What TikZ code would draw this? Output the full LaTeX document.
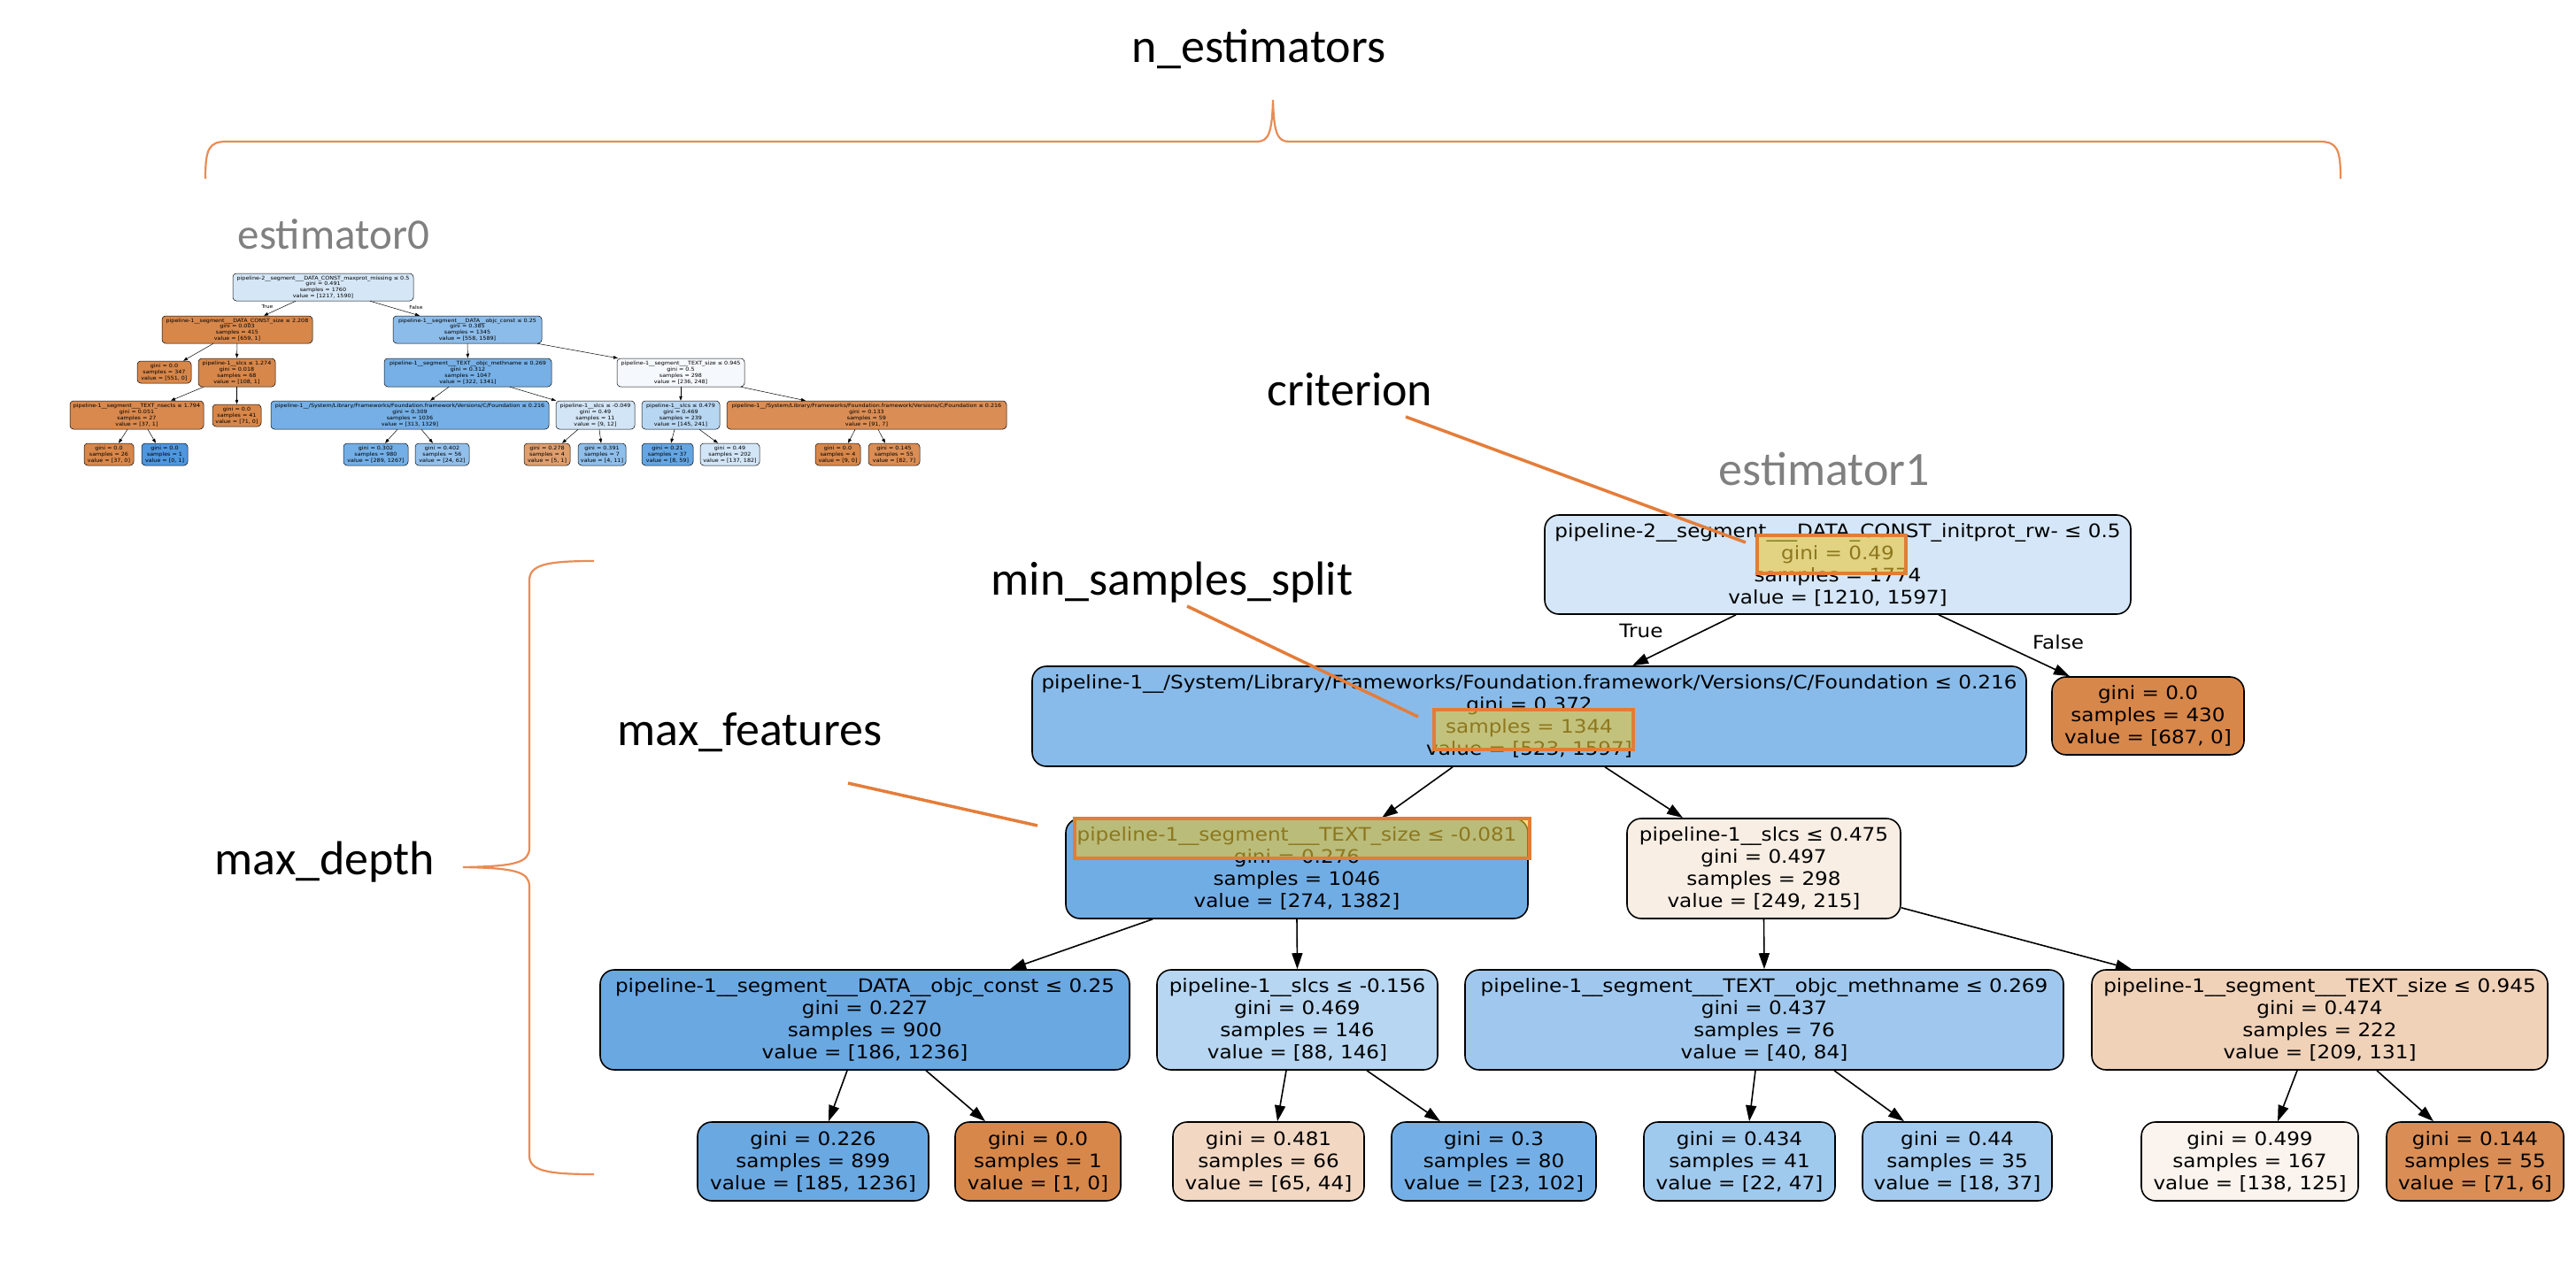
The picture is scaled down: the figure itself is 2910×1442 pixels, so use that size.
\documentclass[tikz,border=0pt]{standalone}
\usepackage{fontspec}
\usetikzlibrary{arrows.meta}
\newfontfamily\treefont[FakeStretch=1.1]{DejaVu Sans}
\newfontfamily\labfont{Carlito}
% colours
\definecolor{orangeF}{RGB}{216,135,74}
\definecolor{blueF}{RGB}{78,150,222}
\definecolor{croot}{RGB}{212,230,247}
\definecolor{cfnd}{RGB}{137,187,234}
\definecolor{cts}{RGB}{113,173,229}
\definecolor{csla}{RGB}{248,238,228}
\definecolor{coc}{RGB}{106,168,226}
\definecolor{cslb}{RGB}{183,214,242}
\definecolor{cmn}{RGB}{160,200,238}
\definecolor{ctsb}{RGB}{240,210,185}
\definecolor{clfc}{RGB}{242,216,195}
\definecolor{clfd}{RGB}{115,175,230}
\definecolor{clfe}{RGB}{160,201,238}
\definecolor{clff}{RGB}{163,203,239}
\definecolor{clfg}{RGB}{251,243,237}
\definecolor{clfh}{RGB}{218,142,85}
\definecolor{sroot}{RGB}{213,231,247}
\definecolor{sR}{RGB}{140,188,234}
\definecolor{sc}{RGB}{118,176,230}
\definecolor{sd}{RGB}{245,249,253}
\definecolor{se}{RGB}{217,137,78}
\definecolor{sg}{RGB}{117,175,230}
\definecolor{sh}{RGB}{210,229,246}
\definecolor{si}{RGB}{183,214,242}
\definecolor{sj}{RGB}{218,141,84}
\definecolor{sm}{RGB}{115,175,230}
\definecolor{sn}{RGB}{146,192,235}
\definecolor{so}{RGB}{222,158,110}
\definecolor{sp}{RGB}{142,190,234}
\definecolor{sq}{RGB}{100,165,226}
\definecolor{sr}{RGB}{211,230,247}
\definecolor{hlorange}{RGB}{226,125,55}
\definecolor{hlyellow}{RGB}{235,199,51}
\definecolor{callorange}{RGB}{228,125,58}
\definecolor{braceorange}{RGB}{232,140,85}
\definecolor{labgray}{RGB}{128,128,128}
\begin{document}
\begin{tikzpicture}[x=1pt,y=-1pt,
  bnode/.style={draw=black, line width=1.6pt, rounded corners=16pt, align=center,
    font=\treefont\fontsize{21}{25}\selectfont, inner sep=0pt},
  snode/.style={draw=black, line width=0.5pt, rounded corners=4pt, align=center,
    font=\treefont\fontsize{5.8}{6.8}\selectfont, inner sep=0pt},
  bedge/.style={draw=black, line width=1.6pt, -{Triangle[length=18pt,width=12pt]}},
  sedge/.style={draw=black, line width=0.5pt, -{Triangle[length=5pt,width=3.5pt]}},
  hl/.style={draw=hlorange, line width=4pt, fill=hlyellow, fill opacity=0.6, inner sep=0pt},
  callout/.style={draw=callorange, line width=3.5pt},
  bracecurve/.style={draw=braceorange, line width=2.2pt},
  lab/.style={font=\labfont\fontsize{54}{60}\selectfont, anchor=base, inner sep=0pt},
  biglab/.style={font=\treefont\fontsize{21}{25}\selectfont, anchor=base, inner sep=0pt},
  smalllab/.style={font=\treefont\fontsize{5.5}{6}\selectfont, anchor=base, inner sep=0pt}
]
\useasboundingbox (0,0) rectangle (2910,1442);

% ---------------- labels ----------------
\node[lab] (nest) at (1422,71) {n\_estimators};
\node[lab, text=labgray, font=\labfont\fontsize{49}{55}\selectfont] (est0) at (377,281) {estimator0};
\node[lab, text=labgray] (est1) at (2061,548) {estimator1};
\node[lab] (crit) at (1525,458) {criterion};
\node[lab] (mss) at (1324,672) {min\_samples\_split};
\node[lab] (mf) at (847,842) {max\_features};
\node[lab] (md) at (367,988) {max\_depth};

% ---------------- braces ----------------
\draw[bracecurve] (232,202) .. controls (232,168) and (236,160) .. (256,160) -- (1420,160)
  .. controls (1433,160) and (1437,150) .. (1438,113)
  .. controls (1439,150) and (1443,160) .. (1456,160) -- (2620,160)
  .. controls (2640,160) and (2644,168) .. (2644,202);
\draw[bracecurve] (671,634) .. controls (618,634) and (598,638) .. (598,656) -- (598,958)
  .. controls (598,975) and (582,979) .. (523,980)
  .. controls (582,981) and (598,985) .. (598,1002) -- (598,1306)
  .. controls (598,1323) and (618,1327) .. (671,1327);

% ---------------- estimator1 tree ----------------
\node[bnode, fill=croot, minimum width=662pt, minimum height=112pt] (root) at (2076,638)
  {pipeline-2\_\_segment\_\_\_DATA\_CONST\_initprot\_rw- ≤ 0.5\\gini = 0.49\\samples = 1774\\value = [1210, 1597]};
\node[bnode, fill=cfnd, minimum width=1123pt, minimum height=113pt] (fnd) at (1727.5,809.5)
  {pipeline-1\_\_/System/Library/Frameworks/Foundation.framework/Versions/C/Foundation ≤ 0.216\\gini = 0.372\\samples = 1344\\value = [523, 1597]};
\node[bnode, fill=orangeF, minimum width=217pt, minimum height=88pt] (lf430) at (2426.5,809)
  {gini = 0.0\\samples = 430\\value = [687, 0]};
\node[bnode, fill=cts, minimum width=522pt, minimum height=113pt] (ts) at (1465,981.5)
  {pipeline-1\_\_segment\_\_\_TEXT\_size ≤ -0.081\\gini = 0.276\\samples = 1046\\value = [274, 1382]};
\node[bnode, fill=csla, minimum width=309pt, minimum height=113pt] (sla) at (1992.5,981.5)
  {pipeline-1\_\_slcs ≤ 0.475\\gini = 0.497\\samples = 298\\value = [249, 215]};
\node[bnode, fill=coc, minimum width=598pt, minimum height=113pt] (oc) at (977,1152.5)
  {pipeline-1\_\_segment\_\_\_DATA\_\_objc\_const ≤ 0.25\\gini = 0.227\\samples = 900\\value = [186, 1236]};
\node[bnode, fill=cslb, minimum width=317pt, minimum height=113pt] (slb) at (1465.5,1152.5)
  {pipeline-1\_\_slcs ≤ -0.156\\gini = 0.469\\samples = 146\\value = [88, 146]};
\node[bnode, fill=cmn, minimum width=676pt, minimum height=113pt] (mn) at (1993,1152.5)
  {pipeline-1\_\_segment\_\_\_TEXT\_\_objc\_methname ≤ 0.269\\gini = 0.437\\samples = 76\\value = [40, 84]};
\node[bnode, fill=ctsb, minimum width=515pt, minimum height=113pt] (tsb) at (2620.5,1152.5)
  {pipeline-1\_\_segment\_\_\_TEXT\_size ≤ 0.945\\gini = 0.474\\samples = 222\\value = [209, 131]};
\node[bnode, fill=coc, minimum width=261pt, minimum height=89pt] (lfa) at (918.5,1312.5)
  {gini = 0.226\\samples = 899\\value = [185, 1236]};
\node[bnode, fill=orangeF, minimum width=187pt, minimum height=89pt] (lfb) at (1172.5,1312.5)
  {gini = 0.0\\samples = 1\\value = [1, 0]};
\node[bnode, fill=clfc, minimum width=216pt, minimum height=89pt] (lfc) at (1433,1312.5)
  {gini = 0.481\\samples = 66\\value = [65, 44]};
\node[bnode, fill=clfd, minimum width=231pt, minimum height=89pt] (lfd) at (1687.5,1312.5)
  {gini = 0.3\\samples = 80\\value = [23, 102]};
\node[bnode, fill=clfe, minimum width=216pt, minimum height=89pt] (lfe) at (1965,1312.5)
  {gini = 0.434\\samples = 41\\value = [22, 47]};
\node[bnode, fill=clff, minimum width=214pt, minimum height=89pt] (lff) at (2211,1312.5)
  {gini = 0.44\\samples = 35\\value = [18, 37]};
\node[bnode, fill=clfg, minimum width=245pt, minimum height=89pt] (lfg) at (2541.5,1312.5)
  {gini = 0.499\\samples = 167\\value = [138, 125]};
\node[bnode, fill=clfh, minimum width=200pt, minimum height=89pt] (lfh) at (2796,1312.5)
  {gini = 0.144\\samples = 55\\value = [71, 6]};

\draw[bedge] ([xshift=-115pt]root.south) -- ([xshift=116.5pt]fnd.north);
\draw[bedge] ([xshift=114pt]root.south) -- ([xshift=-88.5pt]lf430.north);
\draw[bedge] ([xshift=-86.5pt]fnd.south) -- ([xshift=96pt]ts.north);
\draw[bedge] ([xshift=85.5pt]fnd.south) -- ([xshift=-91.5pt]sla.north);
\draw[bedge] ([xshift=-163pt]ts.south) -- ([xshift=164pt]oc.north);
\draw[bedge] (ts.south) -- (slb.north);
\draw[bedge] (sla.south) -- (mn.north);
\draw[bedge] ([yshift=13pt]sla.south east) -- ([xshift=-212.5pt]tsb.north);
\draw[bedge] ([xshift=-20pt]oc.south) -- ([xshift=17.5pt]lfa.north);
\draw[bedge] ([xshift=69pt]oc.south) -- ([xshift=-59.5pt]lfb.north);
\draw[bedge] ([xshift=-12.5pt]slb.south) -- ([xshift=10pt]lfc.north);
\draw[bedge] ([xshift=78.5pt]slb.south) -- ([xshift=-60.5pt]lfd.north);
\draw[bedge] ([xshift=-10pt]mn.south) -- ([xshift=11pt]lfe.north);
\draw[bedge] ([xshift=79pt]mn.south) -- ([xshift=-60pt]lff.north);
\draw[bedge] ([xshift=-25.5pt]tsb.south) -- ([xshift=31.5pt]lfg.north);
\draw[bedge] ([xshift=64.5pt]tsb.south) -- ([xshift=-47pt]lfh.north);

\node[biglab] (truelab) at (1854,720) {True};
\node[biglab] (falselab) at (2325,733) {False};

% ---------------- estimator0 tree ----------------
\node[snode, fill=sroot, minimum width=204pt, minimum height=31pt] (s0) at (365,324.5)
  {pipeline-2\_\_segment\_\_\_DATA\_CONST\_maxprot\_missing ≤ 0.5\\gini = 0.491\\samples = 1760\\value = [1217, 1590]};
\node[snode, fill=orangeF, minimum width=170pt, minimum height=31pt] (s1) at (268,372.5)
  {pipeline-1\_\_segment\_\_\_DATA\_CONST\_size ≤ 2.208\\gini = 0.003\\samples = 415\\value = [659, 1]};
\node[snode, fill=sR, minimum width=168pt, minimum height=31pt] (s2) at (528,372.5)
  {pipeline-1\_\_segment\_\_\_DATA\_\_objc\_const ≤ 0.25\\gini = 0.385\\samples = 1345\\value = [558, 1589]};
\node[snode, fill=orangeF, minimum width=61pt, minimum height=25pt] (s3) at (185.5,420.5)
  {gini = 0.0\\samples = 347\\value = [551, 0]};
\node[snode, fill=orangeF, minimum width=87pt, minimum height=32pt] (s4) at (267.5,421)
  {pipeline-1\_\_slcs ≤ 1.274\\gini = 0.018\\samples = 68\\value = [108, 1]};
\node[snode, fill=sc, minimum width=189pt, minimum height=32pt] (s5) at (528.5,421)
  {pipeline-1\_\_segment\_\_\_TEXT\_\_objc\_methname ≤ 0.269\\gini = 0.312\\samples = 1047\\value = [322, 1341]};
\node[snode, fill=sd, minimum width=144pt, minimum height=32pt] (s6) at (769,421)
  {pipeline-1\_\_segment\_\_\_TEXT\_size ≤ 0.945\\gini = 0.5\\samples = 298\\value = [236, 248]};
\node[snode, fill=se, minimum width=151pt, minimum height=32pt] (s7) at (154.5,469)
  {pipeline-1\_\_segment\_\_\_TEXT\_nsects ≤ 1.794\\gini = 0.051\\samples = 27\\value = [37, 1]};
\node[snode, fill=orangeF, minimum width=55pt, minimum height=25pt] (s8) at (267.5,469.5)
  {gini = 0.0\\samples = 41\\value = [71, 0]};
\node[snode, fill=sg, minimum width=314pt, minimum height=32pt] (s9) at (463,469)
  {pipeline-1\_\_/System/Library/Frameworks/Foundation.framework/Versions/C/Foundation ≤ 0.216\\gini = 0.309\\samples = 1036\\value = [313, 1329]};
\node[snode, fill=sh, minimum width=89pt, minimum height=32pt] (s10) at (672.5,469)
  {pipeline-1\_\_slcs ≤ -0.049\\gini = 0.49\\samples = 11\\value = [9, 12]};
\node[snode, fill=si, minimum width=88pt, minimum height=32pt] (s11) at (769,469)
  {pipeline-1\_\_slcs ≤ 0.479\\gini = 0.469\\samples = 239\\value = [145, 241]};
\node[snode, fill=sj, minimum width=316pt, minimum height=32pt] (s12) at (979,469)
  {pipeline-1\_\_/System/Library/Frameworks/Foundation.framework/Versions/C/Foundation ≤ 0.216\\gini = 0.133\\samples = 59\\value = [91, 7]};
\node[snode, fill=orangeF, minimum width=56pt, minimum height=25pt] (s13) at (123,513.5)
  {gini = 0.0\\samples = 26\\value = [37, 0]};
\node[snode, fill=blueF, minimum width=52pt, minimum height=25pt] (s14) at (186,513.5)
  {gini = 0.0\\samples = 1\\value = [0, 1]};
\node[snode, fill=sm, minimum width=73pt, minimum height=25pt] (s15) at (424.5,513.5)
  {gini = 0.302\\samples = 980\\value = [289, 1267]};
\node[snode, fill=sn, minimum width=61pt, minimum height=25pt] (s16) at (499.5,513.5)
  {gini = 0.402\\samples = 56\\value = [24, 62]};
\node[snode, fill=so, minimum width=52pt, minimum height=25pt] (s17) at (618,513.5)
  {gini = 0.278\\samples = 4\\value = [5, 1]};
\node[snode, fill=sp, minimum width=54pt, minimum height=25pt] (s18) at (680,513.5)
  {gini = 0.391\\samples = 7\\value = [4, 11]};
\node[snode, fill=sq, minimum width=58pt, minimum height=25pt] (s19) at (754,513.5)
  {gini = 0.21\\samples = 37\\value = [8, 59]};
\node[snode, fill=sr, minimum width=67pt, minimum height=25pt] (s20) at (824.5,513.5)
  {gini = 0.49\\samples = 202\\value = [137, 182]};
\node[snode, fill=orangeF, minimum width=51pt, minimum height=25pt] (s21) at (946.5,513.5)
  {gini = 0.0\\samples = 4\\value = [9, 0]};
\node[snode, fill=sj, minimum width=58pt, minimum height=25pt] (s22) at (1010,513.5)
  {gini = 0.145\\samples = 55\\value = [82, 7]};

\draw[sedge] ([xshift=-31pt]s0.south) -- ([xshift=30pt]s1.north);
\draw[sedge] ([xshift=53pt]s0.south) -- ([xshift=-54pt]s2.north);
\draw[sedge] ([xshift=-27pt]s1.south) -- ([xshift=21.5pt]s3.north);
\draw[sedge] (s1.south) -- (s4.north);
\draw[sedge] (s2.south) -- (s5.north);
\draw[sedge] ([xshift=79pt]s2.south) -- ([xshift=-71pt]s6.north);
\draw[sedge] ([xshift=-37.5pt]s4.south) -- ([xshift=38.5pt]s7.north);
\draw[sedge] (s4.south) -- (s8.north);
\draw[sedge] ([xshift=-21.5pt]s5.south) -- ([xshift=23pt]s9.north);
\draw[sedge] ([xshift=47.5pt]s5.south) -- ([xshift=-44.5pt]s10.north);
\draw[sedge] (s6.south) -- (s11.north);
\draw[sedge] ([xshift=68pt]s6.south) -- ([xshift=-69pt]s12.north);
\draw[sedge] ([xshift=-10.5pt]s7.south) -- ([xshift=11pt]s13.north);
\draw[sedge] ([xshift=12.5pt]s7.south) -- ([xshift=-10pt]s14.north);
\draw[sedge] ([xshift=-14pt]s9.south) -- ([xshift=10.5pt]s15.north);
\draw[sedge] ([xshift=13pt]s9.south) -- ([xshift=-10.5pt]s16.north);
\draw[sedge] ([xshift=-19.5pt]s10.south) -- ([xshift=17pt]s17.north);
\draw[sedge] ([xshift=4.5pt]s10.south) -- ([xshift=-1pt]s18.north);
\draw[sedge] ([xshift=-7pt]s11.south) -- ([xshift=4pt]s19.north);
\draw[sedge] ([xshift=21pt]s11.south) -- ([xshift=-13.5pt]s20.north);
\draw[sedge] ([xshift=-13pt]s12.south) -- ([xshift=11.5pt]s21.north);
\draw[sedge] ([xshift=13pt]s12.south) -- ([xshift=-10pt]s22.north);

\node[smalllab] (strue) at (302,348) {True};
\node[smalllab] (sfalse) at (470,349) {False};

% ---------------- highlights and callouts ----------------
\node[hl, minimum width=168pt, minimum height=43pt] (hbA) at (2069,626.5) {};
\node[hl, minimum width=225pt, minimum height=45pt] (hbB) at (1732.5,824.5) {};
\node[hl, minimum width=514pt, minimum height=45pt] (hbC) at (1471,947.5) {};

\coordinate (crA) at (1588,471);
\coordinate (crAe) at (1972,613);
\coordinate (crB) at (1341,685);
\coordinate (crBe) at (1602,810);
\coordinate (crC) at (958,885);
\coordinate (crCe) at (1172,933);
\draw[callout] (crA) -- (crAe);
\draw[callout] (crB) -- (crBe);
\draw[callout] (crC) -- (crCe);
\end{tikzpicture}
\end{document}
